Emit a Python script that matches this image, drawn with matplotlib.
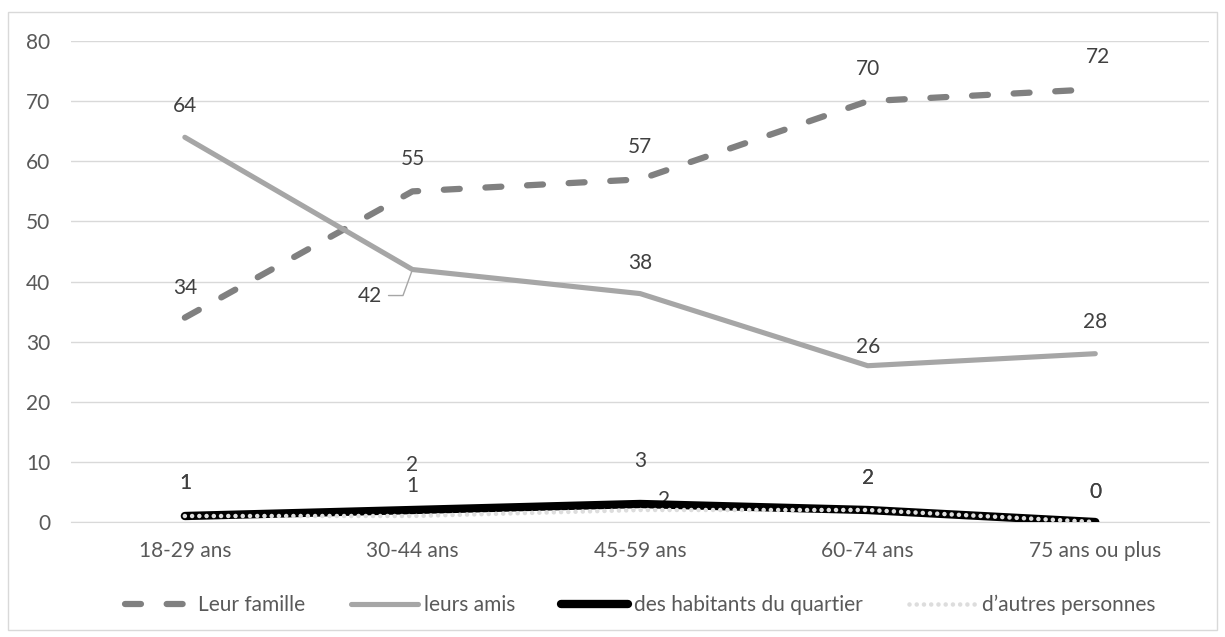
import numpy as np
import matplotlib.pyplot as plt
from matplotlib.patches import Rectangle

plt.rcParams['font.family'] = ['Lato', 'DejaVu Sans']
plt.rcParams['lines.scale_dashes'] = False

categories = ['18-29 ans', '30-44 ans', '45-59 ans', '60-74 ans', '75 ans ou plus']
famille = [34, 55, 57, 70, 72]
amis = [64, 42, 38, 26, 28]
habitants = [1, 2, 3, 2, 0]
autres = [1, 1, 2, 2, 0]

# label offsets in pixels (dx, dy)
off_famille = [(0, 30), (0, 32), (0, 32), (0, 32), (3, 32)]
off_amis = [(0, 31), None, (0, 31), (0, 19), (0, 32)]
off_habitants = [(0, 33), (0, 45), (0, 43), (0, 32), (0, 30)]
off_autres = [(0, 33), (0, 30), (24, 10), (0, 32), (0, 30)]

fig = plt.figure(figsize=(12.25, 6.37), dpi=100)
ax = fig.add_axes([0.058, 0.1805, 0.929, 0.755])
fig.patches.append(Rectangle((8 / 1225, 7 / 637), 1209 / 1225, 618 / 637,
                             transform=fig.transFigure, fill=False,
                             edgecolor='#D9D9D9', linewidth=1))

x = np.arange(len(categories))
ax.plot(x, famille, color='#808080', linewidth=4.5, dashes=(11.5, 18.5),
        dash_capstyle='round', label='Leur famille', zorder=3)
ax.plot(x, amis, color='#A6A6A6', linewidth=3.7, solid_capstyle='round',
        label='leurs amis', zorder=3)
ax.plot(x, habitants, color='black', linewidth=6, solid_capstyle='round',
        label='des habitants du quartier', zorder=4)
ax.plot(x, autres, color='#DDDDDD', linewidth=3.3, dashes=(0.01, 5.2),
        dash_capstyle='round', label='d\u2019autres personnes', zorder=5)

fs = 15
lab_kw = dict(textcoords='offset pixels', ha='center', va='center',
              fontsize=fs, color='#404040')
for vals, offs in [(famille, off_famille), (amis, off_amis),
                   (habitants, off_habitants), (autres, off_autres)]:
    for i, (v, o) in enumerate(zip(vals, offs)):
        if o is None:
            continue
        ax.annotate(str(v), (x[i], v), xytext=o, **lab_kw)

# 42 label with leader line
ax.annotate(str(amis[1]), (x[1], amis[1]), xytext=(-43, -26), **lab_kw,
            arrowprops=dict(arrowstyle='-', color='#A6A6A6', lw=1,
                            shrinkA=3, shrinkB=0, relpos=(1, 0.5),
                            connectionstyle='angle,angleA=0,angleB=70,rad=0'))

ax.set_xlim(-0.5, len(categories) - 0.5)
ax.set_ylim(0, 80)
ax.set_yticks(np.arange(0, 81, 10))
ax.set_xticks(x)
ax.set_xticklabels(categories)
ax.grid(axis='y', color='#D9D9D9', linewidth=1)
ax.set_axisbelow(True)
for s in ['top', 'right', 'left']:
    ax.spines[s].set_visible(False)
ax.spines['bottom'].set_color('#D9D9D9')
ax.tick_params(length=0, labelsize=fs, labelcolor='#595959', pad=14)
ax.tick_params(axis='y', pad=15)

ax.legend(loc='center', bbox_to_anchor=(0.5, -0.172), ncol=4, frameon=False,
          fontsize=fs, labelcolor='#595959', handlelength=3.2,
          handletextpad=0.3, columnspacing=2.2)

fig.savefig('out.png', dpi=100)
